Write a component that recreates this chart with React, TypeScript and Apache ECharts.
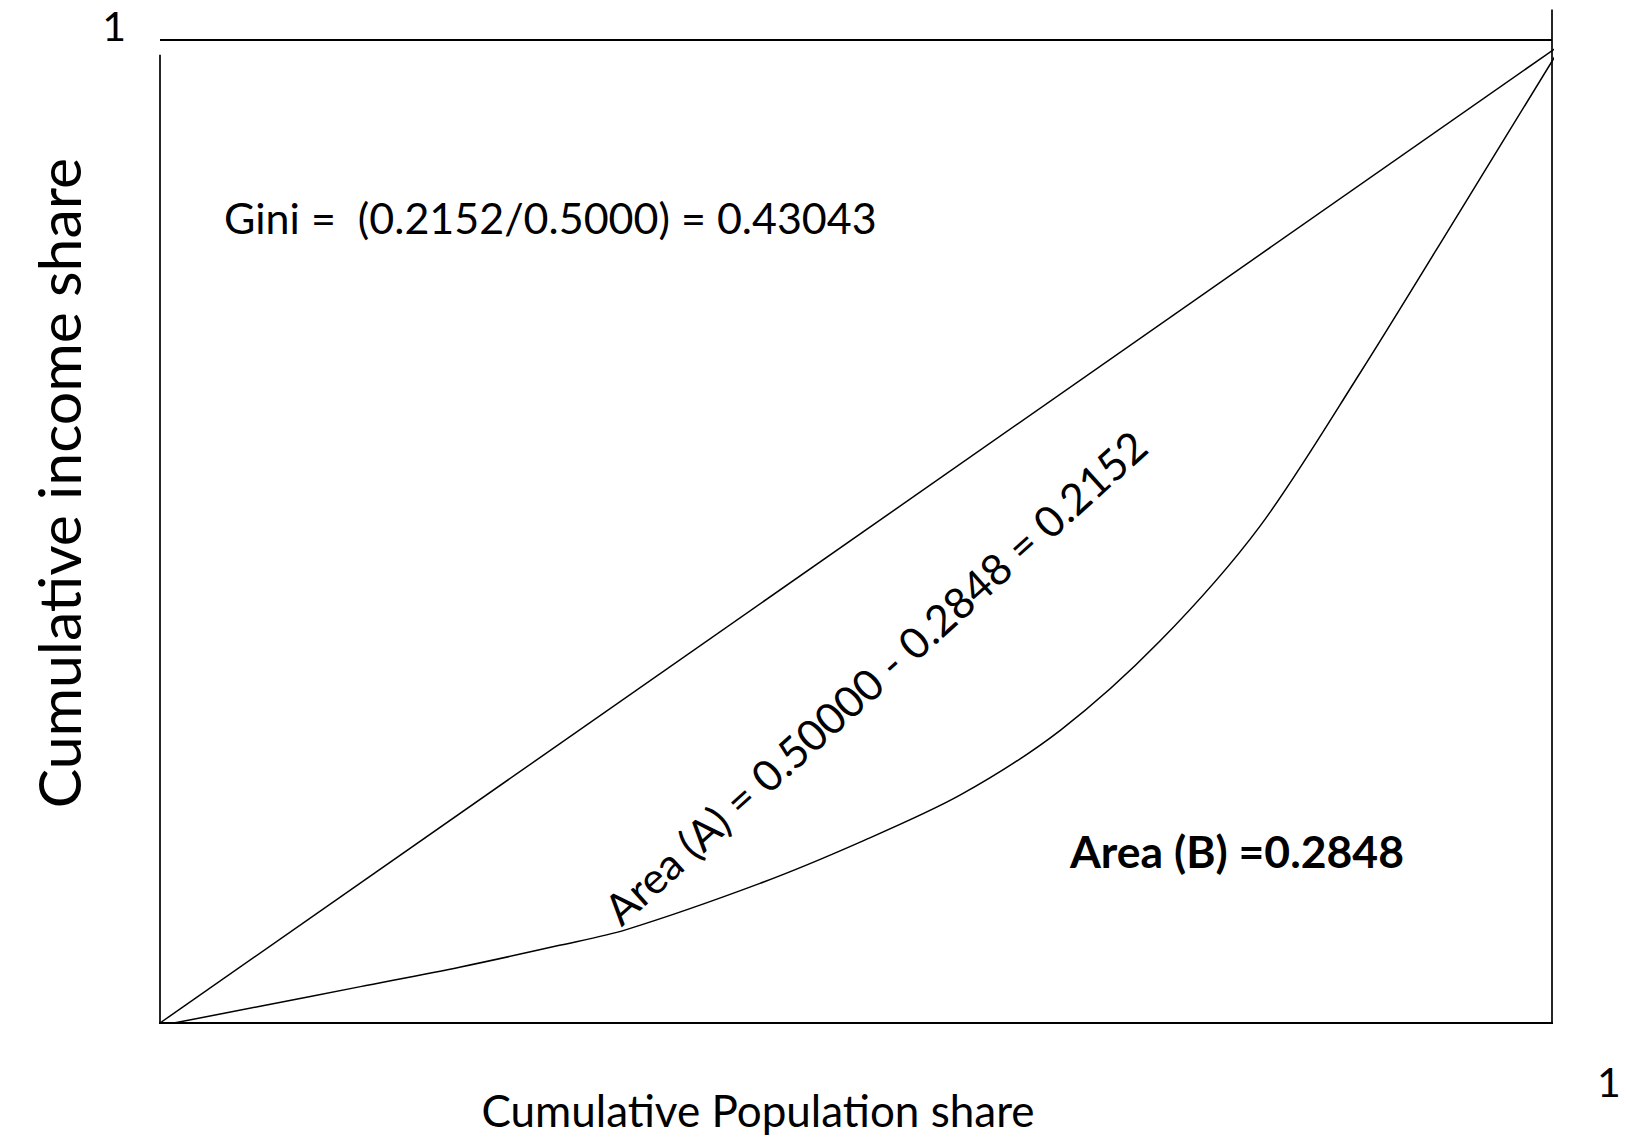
import React, { useEffect, useRef } from "react";
import * as echarts from "echarts";

// Lorenz curve (cumulative population share -> cumulative income share)
const lorenzX = [0.010, 0.072, 0.144, 0.216, 0.287, 0.335, 0.431, 0.503, 0.575, 0.647, 0.718, 0.790, 0.862, 0.934, 1.002];
const lorenzY = [0.000, 0.017, 0.037, 0.057, 0.079, 0.095, 0.142, 0.184, 0.232, 0.298, 0.388, 0.505, 0.661, 0.826, 0.983];

// Line of equality
const equalityX = [0, 1.011];
const equalityY = [0, 1];

// Frame lines (data coordinates)
const bottomLineX = [-0.010, 1.011];
const bottomLineY = [0, 0];
const topLineX = [0, 1];
const topLineY = [1, 1];
const leftLineX = [0, 0];
const leftLineY = [0, 0.985];
const rightLineX = [1, 1];
const rightLineY = [0, 1.031];

// Tick labels
const xTickValues = [0, 1];
const xTickLabels = ["", "1"];
const yTickValues = [0, 1];
const yTickLabels = ["", "1"];

// Texts
const xAxisTitle = "Cumulative Population share";
const yAxisTitle = "Cumulative income share";
const giniText = "Gini =  (0.2152/0.5000) = 0.43043";
const areaAText = "Area (A) = 0.50000 - 0.2848 = 0.2152";
const areaBText = "Area (B) =0.2848";

const FONT = "Lato, 'Open Sans', sans-serif";

const zip = (xs: number[], ys: number[]) => xs.map((x, i) => [x, ys[i]]);

const lineSeries = (name: string, xs: number[], ys: number[], width: number, smooth: number | boolean = false) => ({
  name,
  type: "line",
  data: zip(xs, ys),
  symbol: "none",
  smooth,
  clip: false,
  silent: true,
  lineStyle: { color: "#000", width },
});

export default function App() {
  const ref = useRef<HTMLDivElement>(null);
  useEffect(() => {
    const chart = echarts.init(ref.current!, null, { renderer: "svg" });
    chart.setOption({
      animation: false,
      backgroundColor: "#fff",
      grid: { left: 160, right: 74, top: 40, bottom: 115 },
      xAxis: {
        type: "value",
        min: 0,
        max: 1,
        interval: 1,
        axisLine: { show: false },
        axisTick: { show: false },
        splitLine: { show: false },
        axisLabel: {
          formatter: (v: number) => xTickLabels[xTickValues.indexOf(v)] ?? "",
          fontFamily: FONT,
          fontSize: 41,
          color: "#000",
          align: "left",
          padding: [0, 0, 0, 45],
          margin: 38,
        },
      },
      yAxis: {
        type: "value",
        min: 0,
        max: 1,
        interval: 1,
        axisLine: { show: false },
        axisTick: { show: false },
        splitLine: { show: false },
        axisLabel: {
          formatter: (v: number) => yTickLabels[yTickValues.indexOf(v)] ?? "",
          fontFamily: FONT,
          fontSize: 41,
          color: "#000",
          verticalAlign: "bottom",
          lineHeight: 30,
          margin: 34,
        },
      },
      series: [
        lineSeries("bottom", bottomLineX, bottomLineY, 2),
        lineSeries("top", topLineX, topLineY, 2),
        lineSeries("left", leftLineX, leftLineY, 1.7),
        lineSeries("right", rightLineX, rightLineY, 1.7),
        lineSeries("Line of equality", equalityX, equalityY, 1.5),
        lineSeries("Lorenz curve", lorenzX, lorenzY, 1.5, 0.3),
      ],
      graphic: [
        {
          type: "text",
          x: 58,
          y: 483,
          rotation: Math.PI / 2,
          style: { text: yAxisTitle, fontFamily: FONT, fontSize: 59, fill: "#000", align: "center", verticalAlign: "middle" },
        },
        {
          type: "text",
          x: 758,
          y: 1110,
          style: { text: xAxisTitle, fontFamily: FONT, fontSize: 44, fill: "#000", align: "center", verticalAlign: "middle" },
        },
        {
          type: "text",
          x: 224,
          y: 217,
          style: { text: giniText, fontFamily: FONT, fontSize: 43, fill: "#000", align: "left", verticalAlign: "middle" },
        },
        {
          type: "text",
          x: 875,
          y: 677,
          rotation: (42 * Math.PI) / 180,
          style: { text: areaAText, fontFamily: FONT, fontSize: 43, fill: "#000", align: "center", verticalAlign: "middle" },
        },
        {
          type: "text",
          x: 1070,
          y: 850,
          style: { text: areaBText, fontFamily: FONT, fontSize: 44.5, fontWeight: "bold", fill: "#000", align: "left", verticalAlign: "middle" },
        },
      ],
    });
    return () => chart.dispose();
  }, []);
  return (
    <div
      ref={ref}
      style={{ position: "fixed", left: 0, top: 0, width: 1626, height: 1138, background: "#fff" }}
    />
  );
}
